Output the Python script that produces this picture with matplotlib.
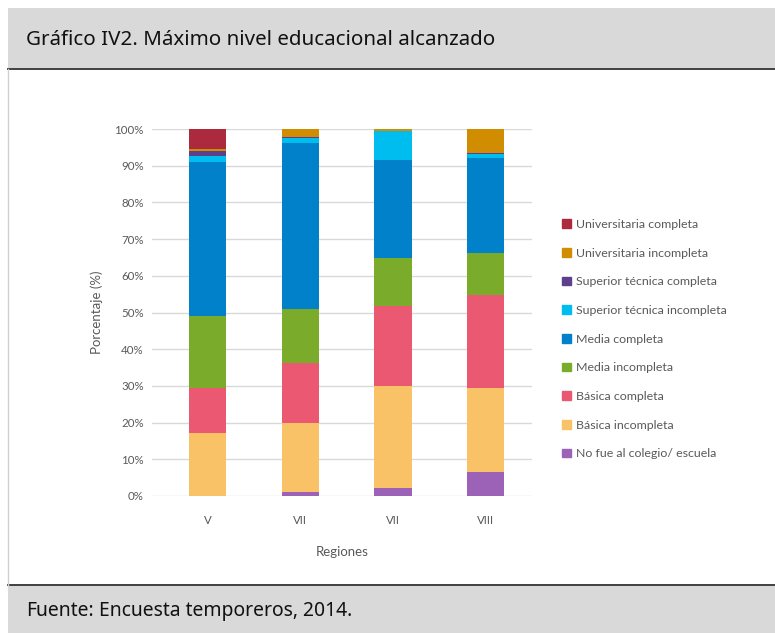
import matplotlib
matplotlib.use("Agg")
import matplotlib.pyplot as plt
from matplotlib.patches import Rectangle, Patch
import numpy as np

# datos (porcentajes, de abajo hacia arriba)
regiones = ["V", "VII", "VII", "VIII"]
niveles = [
    "No fue al colegio/ escuela",
    "Básica incompleta",
    "Básica completa",
    "Media incompleta",
    "Media completa",
    "Superior técnica incompleta",
    "Superior técnica completa",
    "Universitaria incompleta",
    "Universitaria completa",
]
no_fue = [0.0, 1.2, 2.1, 6.5]
basica_inc = [17.1, 18.6, 27.9, 22.8]
basica_comp = [12.2, 16.4, 21.8, 25.5]
media_inc = [19.7, 14.7, 13.0, 11.3]
media_comp = [42.1, 45.2, 26.8, 26.1]
sup_tec_inc = [1.5, 1.4, 7.9, 0.9]
sup_tec_comp = [1.4, 0.3, 0.0, 0.3]
univ_inc = [0.5, 2.2, 0.5, 6.6]
univ_comp = [5.5, 0.0, 0.0, 0.0]

series = [no_fue, basica_inc, basica_comp, media_inc, media_comp,
          sup_tec_inc, sup_tec_comp, univ_inc, univ_comp]
colores = ["#9b62b8", "#f9c266", "#ea5872", "#7aab2b", "#0081c9",
           "#00bdf0", "#5e3f8c", "#d18d00", "#ab2a3d"]

W, H = 775, 633
fig = plt.figure(figsize=(W / 100, H / 100), dpi=100)

# marco: cabecera y pie grises
bg = fig.add_axes([0, 0, 1, 1])
bg.set_xlim(0, W)
bg.set_ylim(H, 0)
bg.axis("off")
bg.add_patch(Rectangle((8, 8), W - 8, 60, color="#d9d9d9", lw=0))
bg.add_patch(Rectangle((8, 585), W - 8, H - 585, color="#d9d9d9", lw=0))
bg.plot([8, W], [68.5, 68.5], color="#404040", lw=1.4)
bg.plot([8, W], [585, 585], color="#404040", lw=1.4)
bg.plot([7.5, 7.5], [69, 585], color="#d0d0d0", lw=1)
bg.text(26, 40, "Gráfico IV2. Máximo nivel educacional alcanzado",
        fontsize=14.8, family="Noto Sans", weight="medium",
        color="#111111", va="center")
t = bg.text(26, 611, "Fuente:", fontsize=13.9, family="Noto Sans",
            weight="semibold", color="#111111", va="center")
bg.annotate(" Encuesta temporeros, 2014.", xy=(1, 0.5), xycoords=t,
            fontsize=13.9, family="Noto Sans", color="#111111",
            va="center", ha="left")

ax = fig.add_axes([152 / W, (H - 496) / H, 380 / W, 367 / H])
x = np.arange(len(regiones))
bottom = np.zeros(len(regiones))
for vals, col in zip(series, colores):
    ax.bar(x, vals, 0.4, bottom=bottom, color=col, zorder=3)
    bottom += np.array(vals)

ax.set_xlim(-0.598, 3.498)
ax.set_ylim(0, 100)
ax.set_yticks(np.arange(0, 101, 10))
ax.set_yticklabels([f"{v}%" for v in range(0, 101, 10)])
ax.set_xticks(x)
ax.set_xticklabels(regiones)
ax.grid(axis="y", color="#d9d9d9", lw=1, zorder=0)
for s in ax.spines.values():
    s.set_visible(False)
ax.tick_params(length=0, labelsize=8.3, labelcolor="#595959", pad=6)
ax.tick_params(axis="x", pad=14)
for lab in ax.get_xticklabels() + ax.get_yticklabels():
    lab.set_family("Lato")
ax.set_ylabel("Porcentaje (%)", fontsize=9.5, color="#595959", family="Lato",
              labelpad=8)
ax.set_xlabel("Regiones", fontsize=9.5, color="#595959", family="Lato",
              labelpad=14)

handles = [Patch(color=c, label=n) for n, c in zip(niveles, colores)][::-1]
leg = fig.legend(handles=handles, loc="upper left",
                 bbox_to_anchor=(557 / W, 1 - 214 / H), frameon=False,
                 prop={"family": "Lato", "size": 8.9}, labelcolor="#595959",
                 handlelength=0.7, handleheight=0.7, handletextpad=0.4,
                 labelspacing=1.43, borderaxespad=0)

fig.savefig("out.png", dpi=100)
